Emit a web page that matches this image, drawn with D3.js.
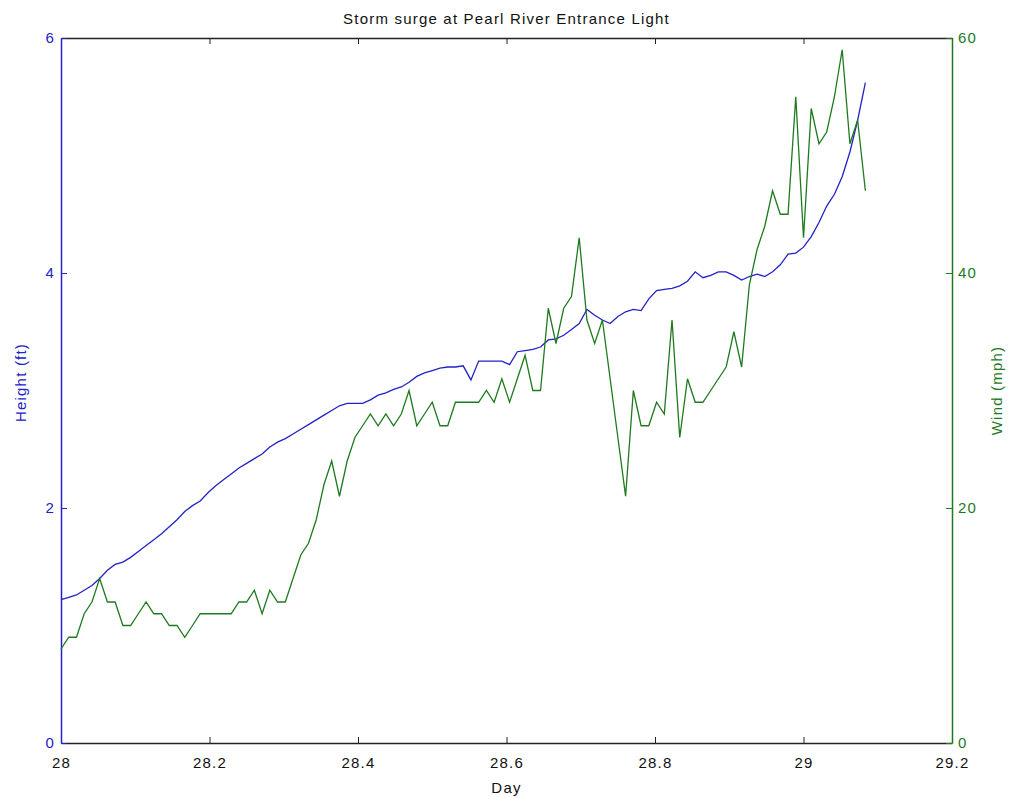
<!DOCTYPE html>
<html>
<head>
<meta charset="utf-8">
<script src="https://cdn.jsdelivr.net/npm/d3@7"></script>
<style>
  body { margin: 0; background: #fff; }
  svg text { font-family: "Liberation Sans", Arial, sans-serif; }
</style>
</head>
<body>
<svg id="chart" width="1012" height="798"></svg>
<script>
// samples every 15 minutes starting at day 28.0
const startDay = 28;
const stepMinutes = 15;

const height = [
  1.22, 1.24, 1.26, 1.30, 1.34, 1.40, 1.47, 1.52, 1.54, 1.58,
  1.63, 1.68, 1.73, 1.78, 1.84, 1.90, 1.97, 2.02, 2.06, 2.13,
  2.19, 2.24, 2.29, 2.34, 2.38, 2.42, 2.46, 2.52, 2.56, 2.59,
  2.63, 2.67, 2.71, 2.75, 2.79, 2.83, 2.87, 2.89, 2.89, 2.89,
  2.92, 2.96, 2.98, 3.01, 3.03, 3.07, 3.12, 3.15, 3.17, 3.19,
  3.20, 3.20, 3.21, 3.09, 3.25, 3.25, 3.25, 3.25, 3.22, 3.33,
  3.34, 3.35, 3.37, 3.43, 3.44, 3.47, 3.52, 3.57, 3.69, 3.64,
  3.60, 3.57, 3.63, 3.67, 3.69, 3.68, 3.78, 3.85, 3.86, 3.87,
  3.89, 3.93, 4.01, 3.96, 3.98, 4.01, 4.01, 3.98, 3.94, 3.97,
  3.99, 3.97, 4.01, 4.07, 4.16, 4.17, 4.22, 4.31, 4.43, 4.57,
  4.67, 4.82, 5.03, 5.30, 5.62
];

const wind = [
  8, 9, 9, 11, 12, 14, 12, 12, 10, 10,
  11, 12, 11, 11, 10, 10, 9, 10, 11, 11,
  11, 11, 11, 12, 12, 13, 11, 13, 12, 12,
  14, 16, 17, 19, 22, 24, 21, 24, 26, 27,
  28, 27, 28, 27, 28, 30, 27, 28, 29, 27,
  27, 29, 29, 29, 29, 30, 29, 31, 29, 31,
  33, 30, 30, 37, 34, 37, 38, 43, 36, 34,
  36, 31, 26, 21, 30, 27, 27, 29, 28, 36,
  26, 31, 29, 29, 30, 31, 32, 35, 32, 39,
  42, 44, 47, 45, 45, 55, 43, 54, 51, 52,
  55, 59, 51, 53, 47
];

const dayTicks = [28, 28.2, 28.4, 28.6, 28.8, 29, 29.2];
const dayTickLabels = ["28", "28.2", "28.4", "28.6", "28.8", "29", "29.2"];
const heightTicks = [0, 2, 4, 6];
const windTicks = [0, 20, 40, 60];

const titleText = "Storm surge at Pearl River Entrance Light";
const xLabel = "Day";
const yLabelLeft = "Height (ft)";
const yLabelRight = "Wind (mph)";

const blue = "#2222c8";
const green = "#1e7a1e";

const margin = {top: 38, right: 60, bottom: 55, left: 61};
const W = 1012 - margin.left - margin.right;
const H = 798 - margin.top - margin.bottom;

const svg = d3.select("#chart");
const g = svg.append("g").attr("transform", `translate(${margin.left},${margin.top})`);

const x = d3.scaleLinear().domain([28, 29.2]).range([0, W]);
const yH = d3.scaleLinear().domain([0, 6]).range([H, 0]);
const yW = d3.scaleLinear().domain([0, 60]).range([H, 0]);

const dayOf = i => startDay + i * stepMinutes / (24 * 60);

function styleAxis(sel, color) {
  sel.select(".domain").attr("stroke", color).attr("stroke-width", 1.5);
  sel.selectAll(".tick line").attr("stroke", color);
  sel.selectAll(".tick text")
    .attr("fill", color)
    .attr("font-size", 15)
    .style("letter-spacing", "1.2px");
}

// top border with inward ticks
g.append("g")
  .call(d3.axisTop(x).tickValues(dayTicks).tickSize(-6).tickFormat("").tickSizeOuter(0))
  .call(s => styleAxis(s, "#222"));

// bottom axis
g.append("g")
  .attr("transform", `translate(0,${H})`)
  .call(d3.axisBottom(x).tickValues(dayTicks).tickSize(-6).tickPadding(14).tickSizeOuter(0)
    .tickFormat((d, i) => dayTickLabels[i]))
  .call(s => styleAxis(s, "#222"))
  .call(s => s.selectAll(".tick text").attr("fill", "#111"));

// left axis (height)
g.append("g")
  .call(d3.axisLeft(yH).tickValues(heightTicks).tickSize(-6).tickPadding(6).tickSizeOuter(0)
    .tickFormat(d3.format("d")))
  .call(s => styleAxis(s, blue));

// right axis (wind)
g.append("g")
  .attr("transform", `translate(${W},0)`)
  .call(d3.axisRight(yW).tickValues(windTicks).tickSize(-6).tickPadding(6).tickSizeOuter(0)
    .tickFormat(d3.format("d")))
  .call(s => styleAxis(s, green));

// lines
g.append("path")
  .datum(height)
  .attr("fill", "none")
  .attr("stroke", blue)
  .attr("stroke-width", 1.3)
  .attr("d", d3.line().x((d, i) => x(dayOf(i))).y(d => yH(d)));

g.append("path")
  .datum(wind)
  .attr("fill", "none")
  .attr("stroke", green)
  .attr("stroke-width", 1.3)
  .attr("d", d3.line().x((d, i) => x(dayOf(i))).y(d => yW(d)));

// labels
svg.append("text")
  .attr("x", margin.left + W / 2)
  .attr("y", 24)
  .attr("text-anchor", "middle")
  .attr("font-size", 15)
  .style("letter-spacing", "1.2px")
  .attr("fill", "#111")
  .text(titleText);

svg.append("text")
  .attr("x", margin.left + W / 2)
  .attr("y", 793)
  .attr("text-anchor", "middle")
  .attr("font-size", 15)
  .style("letter-spacing", "1.2px")
  .attr("fill", "#111")
  .text(xLabel);

svg.append("text")
  .attr("transform", `translate(26,${margin.top + H / 2 - 8}) rotate(-90)`)
  .attr("text-anchor", "middle")
  .attr("font-size", 15)
  .style("letter-spacing", "1.2px")
  .attr("fill", blue)
  .text(yLabelLeft);

svg.append("text")
  .attr("transform", `translate(1002,${margin.top + H / 2}) rotate(-90)`)
  .attr("text-anchor", "middle")
  .attr("font-size", 15)
  .style("letter-spacing", "1.2px")
  .attr("fill", green)
  .text(yLabelRight);
</script>
</body>
</html>
